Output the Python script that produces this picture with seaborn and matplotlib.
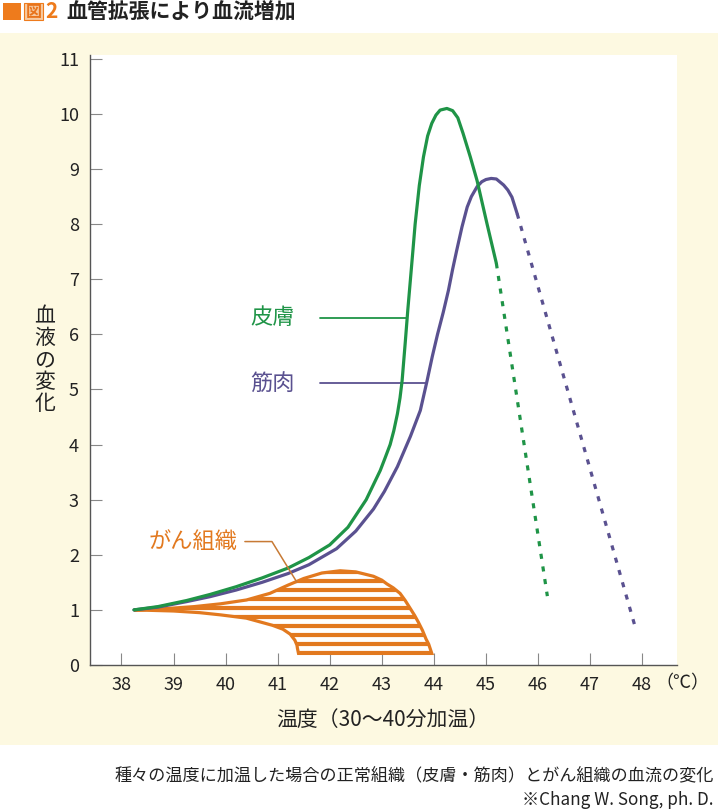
import seaborn as sns
import matplotlib.pyplot as plt
from matplotlib.patches import Rectangle
import numpy as np

# skin (皮膚) curve, solid part then dashed part
skin_x = [38.24, 38.7, 39.25, 39.7, 40.2, 40.7, 41.2, 41.6, 42.0, 42.35, 42.7, 42.97,
          43.06, 43.16, 43.23, 43.3, 43.35, 43.39, 43.45, 43.50, 43.55, 43.60, 43.64,
          43.72, 43.80, 43.88, 43.96, 44.04, 44.12, 44.25, 44.36, 44.46, 44.56,
          44.70, 44.83, 45.02, 45.20]
skin_y = [1.00, 1.06, 1.17, 1.28, 1.42, 1.58, 1.76, 1.95, 2.18, 2.50, 3.00, 3.53,
          3.75, 4.00, 4.25, 4.56, 4.85, 5.16, 5.85, 6.45, 7.00, 7.55, 8.00,
          8.70, 9.22, 9.60, 9.83, 9.98, 10.07, 10.10, 10.06, 9.93, 9.65,
          9.22, 8.79, 8.01, 7.29]
skin_dash_x = [45.20, 46.18]
skin_dash_y = [7.29, 1.25]

# muscle (筋肉) curve
muscle_x = [38.24, 38.7, 39.25, 39.7, 40.2, 40.7, 41.2, 41.6, 42.13, 42.5, 42.84, 43.05,
            43.3, 43.55, 43.74, 43.87, 43.97, 44.07, 44.18, 44.28, 44.36, 44.44,
            44.54, 44.64, 44.72, 44.83, 44.92, 45.00, 45.10, 45.20, 45.34, 45.42,
            45.50, 45.60]
muscle_y = [1.00, 1.05, 1.15, 1.24, 1.36, 1.50, 1.66, 1.82, 2.11, 2.43, 2.83, 3.15,
            3.60, 4.15, 4.62, 5.16, 5.60, 6.00, 6.40, 6.80, 7.18, 7.53,
            7.95, 8.31, 8.50, 8.68, 8.77, 8.81, 8.83, 8.82, 8.71, 8.62,
            8.49, 8.19]
muscle_dash_x = [45.60, 47.87]
muscle_dash_y = [8.19, 0.68]

# tumour (がん組織) region: upper edge, then lower edge (right to left)
tumor_upper_x = [38.24, 38.8, 39.4, 39.9, 40.4, 40.85, 41.2, 41.5, 41.85, 42.2, 42.5,
                 42.84, 43.0, 43.1, 43.22, 43.35, 43.45, 43.55, 43.63, 43.7, 43.78,
                 43.85, 43.9, 43.96]
tumor_upper_y = [1.00, 1.02, 1.06, 1.11, 1.18, 1.30, 1.45, 1.57, 1.67, 1.71, 1.69,
                 1.61, 1.54, 1.47, 1.40, 1.30, 1.17, 1.02, 0.90, 0.78, 0.63,
                 0.47, 0.38, 0.21]
tumor_lower_x = [41.40, 41.38, 41.37, 41.33, 41.24, 41.1, 40.9, 40.4, 39.9, 39.5, 39.0,
                 38.24]
tumor_lower_y = [0.21, 0.30, 0.36, 0.45, 0.56, 0.65, 0.72, 0.85, 0.91, 0.95, 0.98,
                 1.00]

x_ticks = [38, 39, 40, 41, 42, 43, 44, 45, 46, 47, 48]
y_ticks = list(range(0, 12))

GREEN = '#1f9447'
PURPLE = '#5a5190'
ORANGE = '#e2791f'
CREAM = '#fdf9e1'
TEXT = '#222222'

sns.set_theme(style='ticks')
plt.rcParams['font.family'] = ['Noto Sans CJK JP', 'DejaVu Sans']

fig = plt.figure(figsize=(7.18, 8.09), dpi=100)
fig.patch.set_facecolor('white')
W, H = 718, 809

# cream panel behind the chart
fig.patches.append(Rectangle((0, 1 - 745 / H), 1, (745 - 33) / H, transform=fig.transFigure,
                             facecolor=CREAM, edgecolor='none', zorder=-5))

ax = fig.add_axes([90 / W, 1 - 665 / H, (677 - 90) / W, (665 - 55) / H])
ax.set_facecolor('white')

# tumour hatched region
poly_x = tumor_upper_x + tumor_lower_x
poly_y = tumor_upper_y + tumor_lower_y
poly = ax.fill(poly_x, poly_y, facecolor='none', edgecolor=ORANGE, linewidth=2.3,
               zorder=3)[0]
stripes = ax.hlines(np.arange(0.21, 1.8, 0.1635), 38, 44.2, colors=ORANGE,
                    linewidth=3.0, zorder=2.9)
stripes.set_clip_path(poly)

sns.lineplot(x=muscle_x, y=muscle_y, ax=ax, color=PURPLE, linewidth=2.3,
             sort=False, estimator=None, zorder=4)
sns.lineplot(x=muscle_dash_x, y=muscle_dash_y, ax=ax, color=PURPLE, linewidth=2.3,
             sort=False, estimator=None, linestyle=(0, (1.6, 2.4)), zorder=4)
sns.lineplot(x=skin_x, y=skin_y, ax=ax, color=GREEN, linewidth=2.3,
             sort=False, estimator=None, zorder=5)
sns.lineplot(x=skin_dash_x, y=skin_dash_y, ax=ax, color=GREEN, linewidth=2.3,
             sort=False, estimator=None, linestyle=(0, (1.6, 2.4)), zorder=5)

# labels with leader lines
ax.plot([41.81, 43.48], [6.3, 6.3], color=GREEN, linewidth=1.3, zorder=4)
ax.text(40.9, 6.3, '皮膚', color=GREEN, fontsize=16, ha='center', va='center')
ax.plot([41.81, 43.83], [5.11, 5.11], color=PURPLE, linewidth=1.3, zorder=4)
ax.text(40.9, 5.11, '筋肉', color=PURPLE, fontsize=16, ha='center', va='center')
ax.plot([40.37, 40.89, 41.37], [2.24, 2.24, 1.50], color='#c77a35', linewidth=1.1,
        zorder=6)
ax.text(39.38, 2.24, 'がん組織', color=ORANGE, fontsize=16, ha='center', va='center')

ax.set_xlim(37.395, 48.67)
ax.set_ylim(0, 11.07)
ax.set_xticks(x_ticks)
ax.set_yticks(y_ticks)
sns.despine(ax=ax)
for side in ['left', 'bottom']:
    ax.spines[side].set_color('#555555')
    ax.spines[side].set_linewidth(1.0)
ax.tick_params(direction='in', length=8.6, width=0.8, color='#888888',
               labelsize=13, labelcolor=TEXT, pad=8)
ax.grid(False)

ax.set_ylabel('\n'.join('血液の変化'), rotation=0, fontsize=15, color=TEXT,
              ha='center', va='center', linespacing=1.0)
ax.yaxis.set_label_coords(-0.077, 0.5)
ax.set_xlabel('温度（30〜40分加温）', fontsize=15, color=TEXT, va='center')
ax.xaxis.set_label_coords(0.499, -0.09)
ax.text(1.0085, -0.03, '（℃）', transform=ax.transAxes, fontsize=13, color=TEXT,
        ha='center', va='center', clip_on=False)

# title
fig.patches.append(Rectangle((3 / W, 1 - 20 / H), 18 / W, 17 / H, transform=fig.transFigure,
                             facecolor='#ee7b1c', edgecolor='none'))
fig.patches.append(Rectangle((24 / W, 1 - 20 / H), 19 / W, 17 / H, transform=fig.transFigure,
                             facecolor='#f7caa0', edgecolor='#ee7b1c', linewidth=0.8))
fig.text(33.5 / W, 1 - 11.5 / H, '図', fontsize=11.5, color='#e8731a', ha='center',
         va='center', fontweight='bold')
fig.text(45 / W, 1 - 11.5 / H, '2', fontsize=15, color='#ee7b1c', ha='left',
         va='center', fontweight='bold')
fig.text(66 / W, 1 - 12 / H, '血管拡張により血流増加', fontsize=15, color=TEXT,
         ha='left', va='center', fontweight='bold')

# caption
fig.text(714 / W, 1 - 776 / H, '種々の温度に加温した場合の正常組織（皮膚・筋肉）とがん組織の血流の変化',
         fontsize=12.3, color=TEXT, ha='right', va='center')
fig.text(714 / W, 1 - 800 / H, '※Chang W. Song, ph. D.', fontsize=12.3, color=TEXT,
         ha='right', va='center')

fig.savefig('out.png', dpi=100, facecolor=fig.get_facecolor())
